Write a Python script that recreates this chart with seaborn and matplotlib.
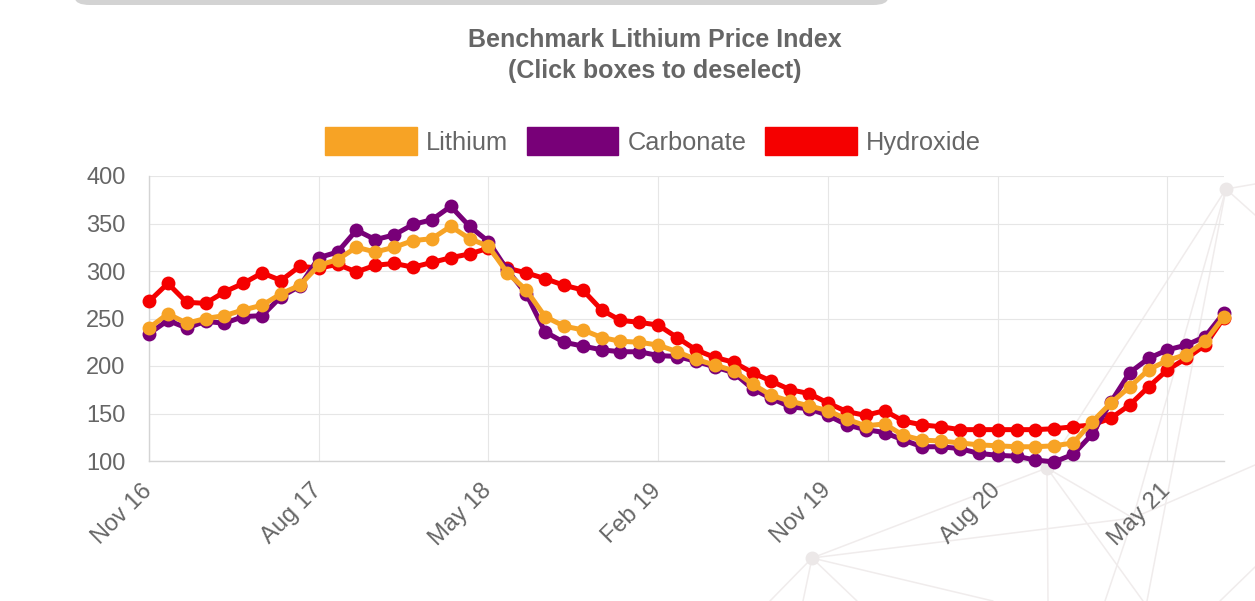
import numpy as np
import pandas as pd
import matplotlib
matplotlib.use("Agg")
import matplotlib.pyplot as plt
import seaborn as sns
from matplotlib.lines import Line2D
from matplotlib.patches import Patch, FancyBboxPatch

# donnees (un point par mois, Nov 2016 -> Aug 2021)
mois = pd.date_range("2016-11-01", "2021-08-01", freq="MS").strftime("%b %y").tolist()

lithium = [240, 255, 245, 250, 253, 259, 264, 276, 285, 306, 312, 325, 320, 325, 332, 334, 347, 334, 326,
           298, 280, 252, 242, 238, 230, 226, 225, 222, 215,
           207, 201, 195, 181, 169, 163, 158, 153, 144,
           137, 139, 127, 122, 121, 119, 117, 116, 115, 115, 116, 119,
           141, 161, 178, 196, 206, 212, 226, 252]
carbonate = [234, 248, 240, 247, 245, 252, 253, 273, 284, 314, 320, 343, 333, 338, 349, 354, 368, 347, 331,
             301, 276, 236, 225, 221, 217, 215, 215, 211, 210,
             205, 199, 193, 176, 166, 157, 155, 148, 138,
             133, 130, 122, 115, 115, 113, 108, 106, 105, 101, 99, 107,
             128, 162, 193, 208, 217, 222, 231, 256]
hydroxide = [268, 287, 267, 266, 278, 287, 298, 290, 305, 303, 307, 299, 306, 308, 304, 309, 314, 318, 324,
             303, 298, 292, 285, 280, 259, 248, 246, 243, 230,
             217, 209, 204, 193, 184, 175, 171, 161, 152,
             148, 153, 142, 138, 136, 133, 133, 133, 133, 133, 134, 136,
             138, 145, 159, 178, 196, 208, 222, 251]

series = ["Lithium", "Carbonate", "Hydroxide"]
couleurs = {"Lithium": "#F7A325", "Carbonate": "#780078", "Hydroxide": "#F50000"}
yticks = [100, 150, 200, 250, 300, 350, 400]

df = pd.DataFrame({"idx": np.arange(len(mois)), "mois": mois,
                   "Lithium": lithium, "Carbonate": carbonate, "Hydroxide": hydroxide})
long = df.melt(id_vars=["idx", "mois"], value_vars=series, var_name="serie", value_name="prix")

sns.set_style("white")
plt.rcParams["font.family"] = ["Liberation Sans", "DejaVu Sans"]

W, H = 1255, 601
fig = plt.figure(figsize=(W / 100, H / 100), dpi=100)
ax = fig.add_axes([149 / W, 1 - 461 / H, (1224 - 149) / W, (461 - 176) / H])
ax.patch.set_alpha(0)

# decor de fond (reseau gris clair)
def px(x, y):
    return x / W, 1 - y / H

T, A, B, C = (1226, 189), (1047, 468), (812, 558), (1133, 518)
segments = [(T, (1255, 184)), (T, (1255, 215)), (T, A), (T, C), (C, (1105, 601)), (T, (1147, 601)),
            (A, B), (A, (1048, 601)), (A, (1143, 601)), (A, C),
            (B, (770, 601)), (B, (803, 601)), (B, (857, 601)), (B, (993, 601)), (B, C),
            (C, (1255, 465)), ((1255, 567), (1220, 601))]
for a, b in segments:
    (x0, y0), (x1, y1) = px(*a), px(*b)
    fig.add_artist(Line2D([x0, x1], [y0, y1], transform=fig.transFigure,
                          color="#f0ecec", lw=1.1, zorder=0))
for n in [T, A, B]:
    x0, y0 = px(*n)
    fig.add_artist(Line2D([x0], [y0], transform=fig.transFigure, marker="o",
                          markersize=9, color="#ece8e8", zorder=0))

# barre grise en haut
fig.add_artist(FancyBboxPatch((75 / W, 1 - 5 / H), (888 - 75) / W, 0.03,
                              boxstyle="round,pad=0,rounding_size=0.012",
                              transform=fig.transFigure, facecolor="#d3d3d3",
                              edgecolor="none", zorder=0))

sns.lineplot(data=long, x="idx", y="prix", hue="serie",
             hue_order=["Hydroxide", "Carbonate", "Lithium"], palette=couleurs,
             marker="o", markersize=10, markeredgewidth=0, linewidth=3.6,
             legend=False, ax=ax, clip_on=False, zorder=3)

ax.set_xlim(0, len(mois) - 1)
ax.set_ylim(100, 400)
ticks_x = list(range(0, len(mois), 9))
ax.set_xticks(ticks_x)
ax.set_xticklabels([mois[i] for i in ticks_x], rotation=45, ha="right", va="center",
                   rotation_mode="anchor")
ax.set_yticks(yticks)
ax.set_xlabel("")
ax.set_ylabel("")
ax.grid(True, color="#e6e6e6", lw=0.8)
ax.set_axisbelow(True)
ax.tick_params(axis="both", colors="#dddddd", labelcolor="#666666", labelsize=17,
               length=15, width=0.8)
ax.tick_params(axis="y", pad=2)
ax.tick_params(axis="x", pad=4)
for s in ["top", "right"]:
    ax.spines[s].set_visible(False)
for s in ["left", "bottom"]:
    ax.spines[s].set_color("#d4d4d4")
    ax.spines[s].set_linewidth(1)

# titre
fig.text(655 / W, 1 - 40 / H, "Benchmark Lithium Price Index", ha="center", va="center",
         fontsize=18, fontweight="bold", color="#666666")
fig.text(655 / W, 1 - 71 / H, "(Click boxes to deselect)", ha="center", va="center",
         fontsize=18, fontweight="bold", color="#666666")

# legende
handles = [Patch(facecolor=couleurs[s], edgecolor=couleurs[s], label=s) for s in series]
leg = fig.legend(handles=handles, loc="center", bbox_to_anchor=(653 / W, 1 - 141 / H), ncol=3,
                 frameon=False, fontsize=18.3, handlelength=3.6, handleheight=1.26,
                 handletextpad=0.35, columnspacing=0.75)
for t in leg.get_texts():
    t.set_color("#666666")

fig.savefig("out.png", dpi=100)
